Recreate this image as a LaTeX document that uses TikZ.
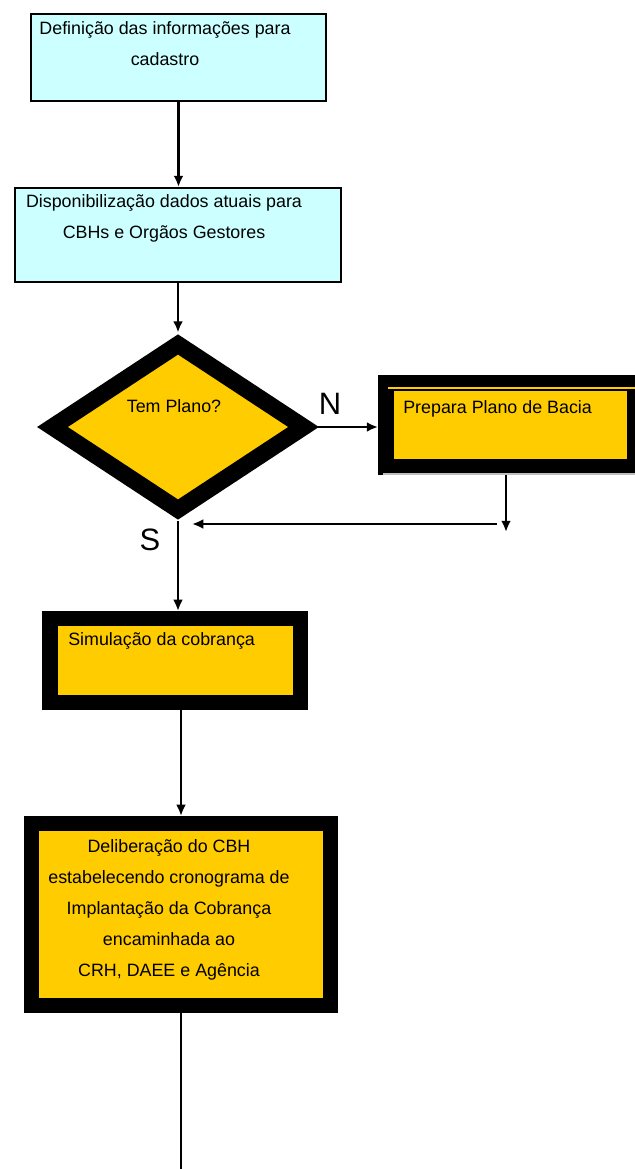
\documentclass[tikz,border=0pt]{standalone}
\usepackage{fontspec}
\setmainfont{Liberation Sans}
\usetikzlibrary{shapes.geometric,arrows.meta}
\definecolor{cadcyan}{HTML}{CCFFFF}
\definecolor{cadgold}{HTML}{FFCC00}

\begin{document}
\begin{tikzpicture}[x=0.025cm, y=-0.025cm,
  every node/.style={font=\fontsize{12.7}{22}\selectfont, inner sep=0pt},
  infobox/.style={rectangle, draw, line width=1.4pt, fill=cadcyan},
  actbox/.style={rectangle, draw, line width=11pt, fill=cadgold},
  decision/.style={diamond, draw, line width=12pt, fill=cadgold},
  flow/.style={line width=2pt, -{Latex[length=8pt,width=7pt]}},
  tag/.style={font=\fontsize{22}{26}\selectfont}]

        \useasboundingbox (0,0) rectangle (635,1169);

        % --- cadastro ---
        \node[infobox, minimum width=7.375cm, minimum height=2.175cm] (def) at (178.5,57.5) {};
        \node[align=center] (defTxt) at (165,44) {Definição das informações para\\cadastro};

        \node[infobox, minimum width=8.15cm, minimum height=2.35cm] (disp) at (178,235) {};
        \node[align=center] (dispTxt) at (164,218) {Disponibilização dados atuais para\\CBHs e Orgãos Gestores};

        % --- decisao ---
        \node[decision, minimum width=6.45cm, minimum height=4.3cm] (ask) at (178,427) {};
        \node (askTxt) at (174,406) {Tem Plano?};

        \node[actbox, minimum width=6.21cm, minimum height=2.11cm] (prep) at (510,425) {};
        \draw[cadgold, line width=1.4pt] (388,388) -- (635,388);
        \draw[gray!50, line width=1.4pt] (383,474) -- (635,474);
        \node[anchor=west] (prepTxt) at (403,409) {Prepara Plano de Bacia};

        \node[tag] (no) at (330,404) {N};
        \node[tag] (yes) at (150,540) {S};

        % --- cobranca ---
        \node[actbox, minimum width=6.26cm, minimum height=2.09cm] (sim) at (175,660.5) {};
        \node[anchor=west] (simTxt) at (68,641) {Simulação da cobrança};

        \node[actbox, minimum width=7.46cm, minimum height=4.54cm] (delib) at (181,914.5) {};
        \node[align=center] (delibTxt) at (169,910) {Deliberação do CBH\\estabelecendo cronograma de\\Implantação da Cobrança\\encaminhada ao\\CRH, DAEE e Agência};

        \coordinate (drop) at (506,532);
        \coordinate (bend) at (497,524);
        \coordinate (back) at (192,524);
        \coordinate (fim) at (181,1169);

        % --- ligacoes ---
        \draw[flow] (def.south) -- (def.south |- disp.north);
        \draw[flow] (disp.south) -- (disp.south |- ask.north);
        \draw[flow] (ask.east) -- (ask.east -| prep.west);
        \draw[flow] (drop |- prep.south) -- (drop);
        \draw[flow] (bend) -- (back);
        \draw[flow] (ask.south) -- (ask.south |- sim.north);
        \draw[flow] (delib.north |- sim.south) -- (delib.north);
        \draw[line width=2pt] (delib.south) -- (fim);

\end{tikzpicture}
\end{document}
